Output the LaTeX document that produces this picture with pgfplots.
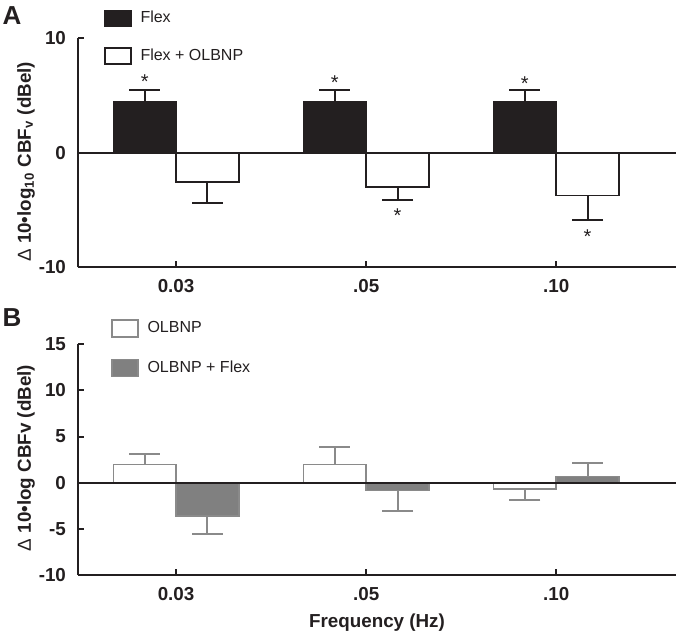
\documentclass[border=0pt]{standalone}
\usepackage{pgfplots}
\pgfplotsset{compat=1.18}
\usepackage{fontspec}
\setmainfont{Liberation Sans}

\definecolor{ink}{RGB}{35,31,32}
\definecolor{fillB}{RGB}{128,128,128}
\definecolor{edgeB}{RGB}{138,138,138}

\pgfplotsset{
  panel/.style={
    scale only axis, width=299pt,
    xmin=-0.516, xmax=2.63,
    axis lines*=left,
    axis line style={ink, line width=1pt},
    tick align=inside, major tick length=3pt,
    tick style={ink, line width=1pt},
    xtick={0,1,2}, xticklabels={0.03,.05,.10},
    tick label style={font=\fontsize{9.4}{11}\selectfont\bfseries, text=ink},
    xticklabel style={yshift=-2.5pt},
    yticklabel style={xshift=-2.5pt},
    /pgf/number format/assume math mode=true,
    ylabel style={font=\fontsize{9.4}{11}\selectfont\bfseries, text=ink, anchor=center},
    clip=false,
    legend cell align=left,
    legend style={draw=none, fill=none, inner sep=0pt, anchor=north west,
      font=\fontsize{8}{10}\selectfont, text=ink,
      /tikz/every odd column/.append style={column sep=2.3pt}},
    legend image code/.code={\draw[#1] (0pt,-4pt) rectangle (13pt,4pt);},
  },
  % bars sit at x-0.165 and x+0.165 of each frequency
  bar/.style={ybar, bar width=0.33, bar shift=0, line width=0.75pt},
  eb/.style 2 args={error bars/.cd, y dir=#1, y explicit,
    error bar style={line width=1pt, #2},
    error mark options={rotate=90, mark size=7.75pt, line width=1pt, #2}},
}

\begin{document}
\begin{tikzpicture}
\useasboundingbox (0pt,0pt) rectangle (338pt,-318pt);

% panel A
\begin{axis}[panel, at={(39pt,-133.65pt)}, anchor=south west, height=114.65pt,
  ymin=-10, ymax=10, ytick={-10,0,10},
  ylabel={\mdseries Δ \bfseries 10•log\textsubscript{10} CBF\textsubscript{v} (dBel)},
  ylabel style={at={(axis description cs:-0.087,0.46)}},
  legend style={at={(axis description cs:0.0435,1.136)}, row sep=7.4pt},
]
  \addplot[bar, fill=ink, draw=ink, eb={plus}{ink}] coordinates {
    (-0.165,4.4) +- (0,1.1)
    (0.835,4.4) +- (0,1.1)
    (1.835,4.4) +- (0,1.1)
  };
  \addlegendentry{Flex}
  \addplot[bar, fill=white, draw=ink, eb={minus}{ink}] coordinates {
    (0.165,-2.55) +- (0,1.85)
    (1.165,-3.0) +- (0,1.1)
    (2.165,-3.75) +- (0,2.15)
  };
  \addlegendentry{Flex + OLBNP}
  \addplot[ink, line width=1pt, sharp plot, no markers, forget plot] coordinates {(-0.516,0) (2.63,0)};
  \node[font=\fontsize{10}{12}\selectfont, text=ink] at (axis cs:-0.165,6.2) {*};
  \node[font=\fontsize{10}{12}\selectfont, text=ink] at (axis cs:0.835,6.1) {*};
  \node[font=\fontsize{10}{12}\selectfont, text=ink] at (axis cs:1.835,6.0) {*};
  \node[font=\fontsize{10}{12}\selectfont, text=ink] at (axis cs:1.165,-5.5) {*};
  \node[font=\fontsize{10}{12}\selectfont, text=ink] at (axis cs:2.165,-7.3) {*};
\end{axis}

% panel B
\begin{axis}[panel, at={(39pt,-287.5pt)}, anchor=south west, height=115.35pt,
  ymin=-10, ymax=15, ytick={-10,-5,0,5,10,15},
  ylabel={\mdseries Δ \bfseries 10•log CBFv (dBel)},
  ylabel style={at={(axis description cs:-0.087,0.507)}},
  xlabel={Frequency (Hz)},
  xlabel style={font=\fontsize{9.4}{11}\selectfont\bfseries, text=ink,
    at={(axis description cs:0.5,0)}, anchor=center, yshift=-24pt},
  legend style={at={(axis description cs:0.0552,1.118)}, row sep=8.5pt},
  legend image code/.code={\draw[#1] (0pt,-4.25pt) rectangle (13pt,4.25pt);},
]
  \addplot[bar, fill=white, draw=edgeB, eb={plus}{edgeB}] coordinates {
    (-0.165,2.0) +- (0,1.1)
    (0.835,2.0) +- (0,1.9)
  };
  \addlegendentry{OLBNP}
  \addplot[forget plot, bar, fill=white, draw=edgeB, eb={minus}{edgeB}] coordinates {
    (1.835,-0.7) +- (0,1.2)
  };
  \addplot[bar, fill=fillB, draw=edgeB, eb={minus}{edgeB}] coordinates {
    (0.165,-3.6) +- (0,2.0)
    (1.165,-0.83) +- (0,2.24)
  };
  \addlegendentry{OLBNP + Flex}
  \addplot[forget plot, bar, fill=fillB, draw=edgeB, eb={plus}{edgeB}] coordinates {
    (2.165,0.65) +- (0,1.52)
  };
  \addplot[ink, line width=1pt, sharp plot, no markers, forget plot] coordinates {(-0.516,0) (2.63,0)};
\end{axis}

\node[font=\fontsize{13}{15}\selectfont\bfseries, text=ink] at (6pt,-8pt) {A};
\node[font=\fontsize{13}{15}\selectfont\bfseries, text=ink] at (6pt,-159pt) {B};
\end{tikzpicture}
\end{document}
